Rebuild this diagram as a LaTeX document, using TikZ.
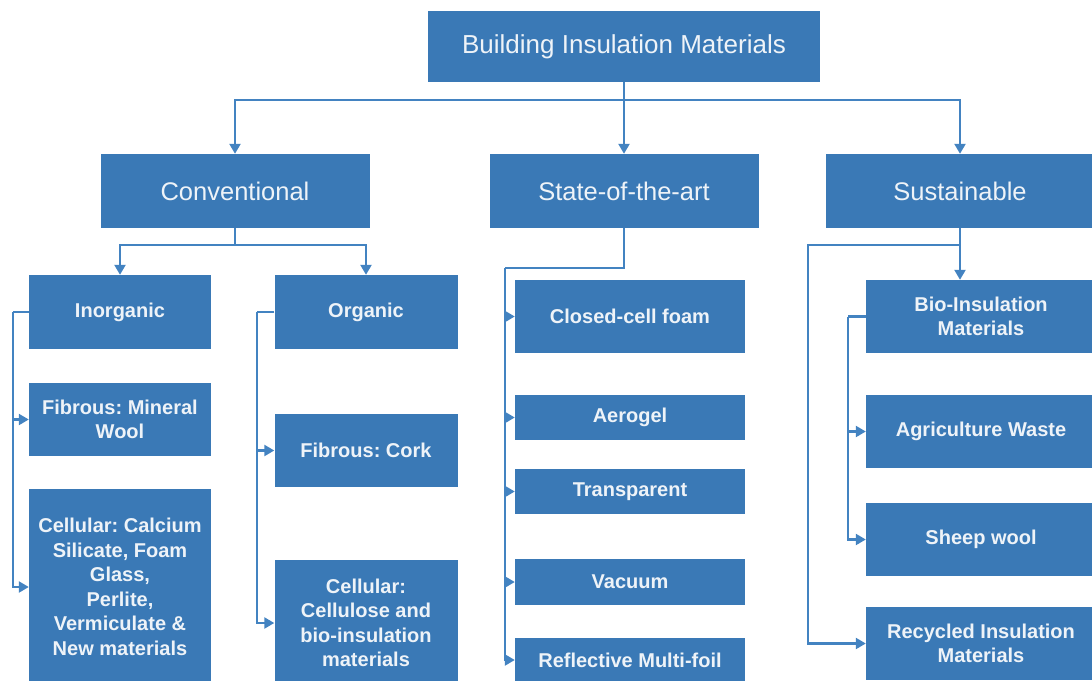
\documentclass[tikz,border=0pt]{standalone}
\usepackage{fontspec}
\setmainfont{Liberation Sans}
\usetikzlibrary{arrows.meta}
\definecolor{boxblue}{HTML}{3A79B6}
\definecolor{lineblue}{HTML}{4383C1}
\definecolor{boxtext}{HTML}{EEF3F8}
\frenchspacing
\begin{document}
\begin{tikzpicture}[x=1pt,y=-1pt,
    box/.style={fill=boxblue,text=boxtext,inner sep=0pt,align=center,
        font=\fontsize{20}{24.5}\selectfont\bfseries},
    headbox/.style={box,font=\fontsize{25.5}{30}\selectfont},
    link/.style={draw=lineblue,line width=2.3pt},
    arr/.style={link,-{Triangle[length=10pt,width=11pt]}}]
    \useasboundingbox (0,0) rectangle (1092,680);
    % Caixa do topo
    \node[headbox,font=\fontsize{26}{30}\selectfont,minimum width=392pt,minimum height=71pt] (top) at (624,46.5) {Building Insulation Materials};
    % Tres grupos
    \node[headbox,minimum width=269pt,minimum height=74pt] (conv) at (235,191) {Conventional};
    \node[headbox,minimum width=269pt,minimum height=74pt] (state) at (624,191) {State-of-the-art};
    \node[headbox,minimum width=269pt,minimum height=74pt] (sust) at (960,191) {Sustainable};
    % Convencional
    \node[box,minimum width=182pt,minimum height=74pt] (inorg) at (120,312) {Inorganic};
    \node[box,minimum width=183pt,minimum height=74pt] (org) at (366,312) {Organic};
    \node[box,minimum width=182pt,minimum height=73pt] (fibmin) at (120,419.5) {Fibrous: Mineral\\Wool};
    \node[box,minimum width=182pt,minimum height=196pt] (cellcal) at (120,587) {Cellular: Calcium\\Silicate, Foam\\Glass,\\Perlite,\\Vermiculate \&\\New materials};
    \node[box,minimum width=183pt,minimum height=73pt] (cork) at (366,450.5) {Fibrous: Cork};
    \node[box,minimum width=183pt,minimum height=126pt] (cellu) at (366,623) {Cellular:\\Cellulose and\\bio-insulation\\materials};
    % Estado da arte
    \node[box,minimum width=230pt,minimum height=73pt] (closed) at (630,316.5) {Closed-cell foam};
    \node[box,minimum width=230pt,minimum height=45pt] (aero) at (630,417.5) {Aerogel};
    \node[box,minimum width=230pt,minimum height=45pt] (transp) at (630,491.5) {Transparent};
    \node[box,minimum width=230pt,minimum height=46pt] (vac) at (630,582) {Vacuum};
    \node[box,minimum width=230pt,minimum height=44pt] (refl) at (630,660) {Reflective Multi-foil};
    % Sustentavel
    \node[box,minimum width=230pt,minimum height=73pt] (bio) at (981,316.5) {Bio-Insulation\\Materials};
    \node[box,minimum width=230pt,minimum height=73pt] (agri) at (981,431.5) {Agriculture Waste};
    \node[box,minimum width=230pt,minimum height=73pt] (sheep) at (981,539.5) {Sheep wool};
    \node[box,minimum width=230pt,minimum height=73pt] (recyc) at (981,643.5) {Recycled Insulation\\Materials};
    % Ligacoes do topo
    \coordinate (bus0) at (624,100);
    \draw[arr] (top.south) -- (state.north);
    \draw[arr] (bus0) -| (conv.north);
    \draw[arr] (bus0) -| (sust.north);
    % Ligacoes do convencional
    \coordinate (bus1) at (235,245);
    \draw[link] (conv.south) -- (bus1);
    \draw[arr] (bus1) -| (inorg.north);
    \draw[arr] (bus1) -| (org.north);
    \coordinate (side1) at ([xshift=-16pt]inorg.west);
    \draw[link] (inorg.west) -- (side1);
    \draw[arr] (side1) |- (fibmin.west);
    \draw[arr] (side1) |- (cellcal.west);
    \coordinate (side2) at ([xshift=-17pt]org.west);
    \draw[link] (org.west) -- (side2);
    \draw[arr] (side2) |- (cork.west);
    \draw[arr] (side2) |- (cellu.west);
    % Ligacoes do estado da arte
    \coordinate (side3) at (505,268);
    \draw[link] (state.south) |- (side3);
    \draw[arr] (side3) |- (closed.west);
    \draw[arr] (side3) |- (aero.west);
    \draw[arr] (side3) |- (transp.west);
    \draw[arr] (side3) |- (vac.west);
    \draw[arr] (side3) |- (refl.west);
    % Ligacoes do sustentavel
    \coordinate (bus2) at (960,245);
    \coordinate (side4) at (808,245);
    \draw[arr] (sust.south) -- (sust.south |- bio.north);
    \draw[arr] (bus2) -- (side4) |- (recyc.west);
    \coordinate (side5) at ([xshift=-18pt]bio.west);
    \draw[link] (bio.west) -- (side5);
    \draw[arr] (side5) |- (agri.west);
    \draw[arr] (side5) |- (sheep.west);
\end{tikzpicture}
\end{document}
